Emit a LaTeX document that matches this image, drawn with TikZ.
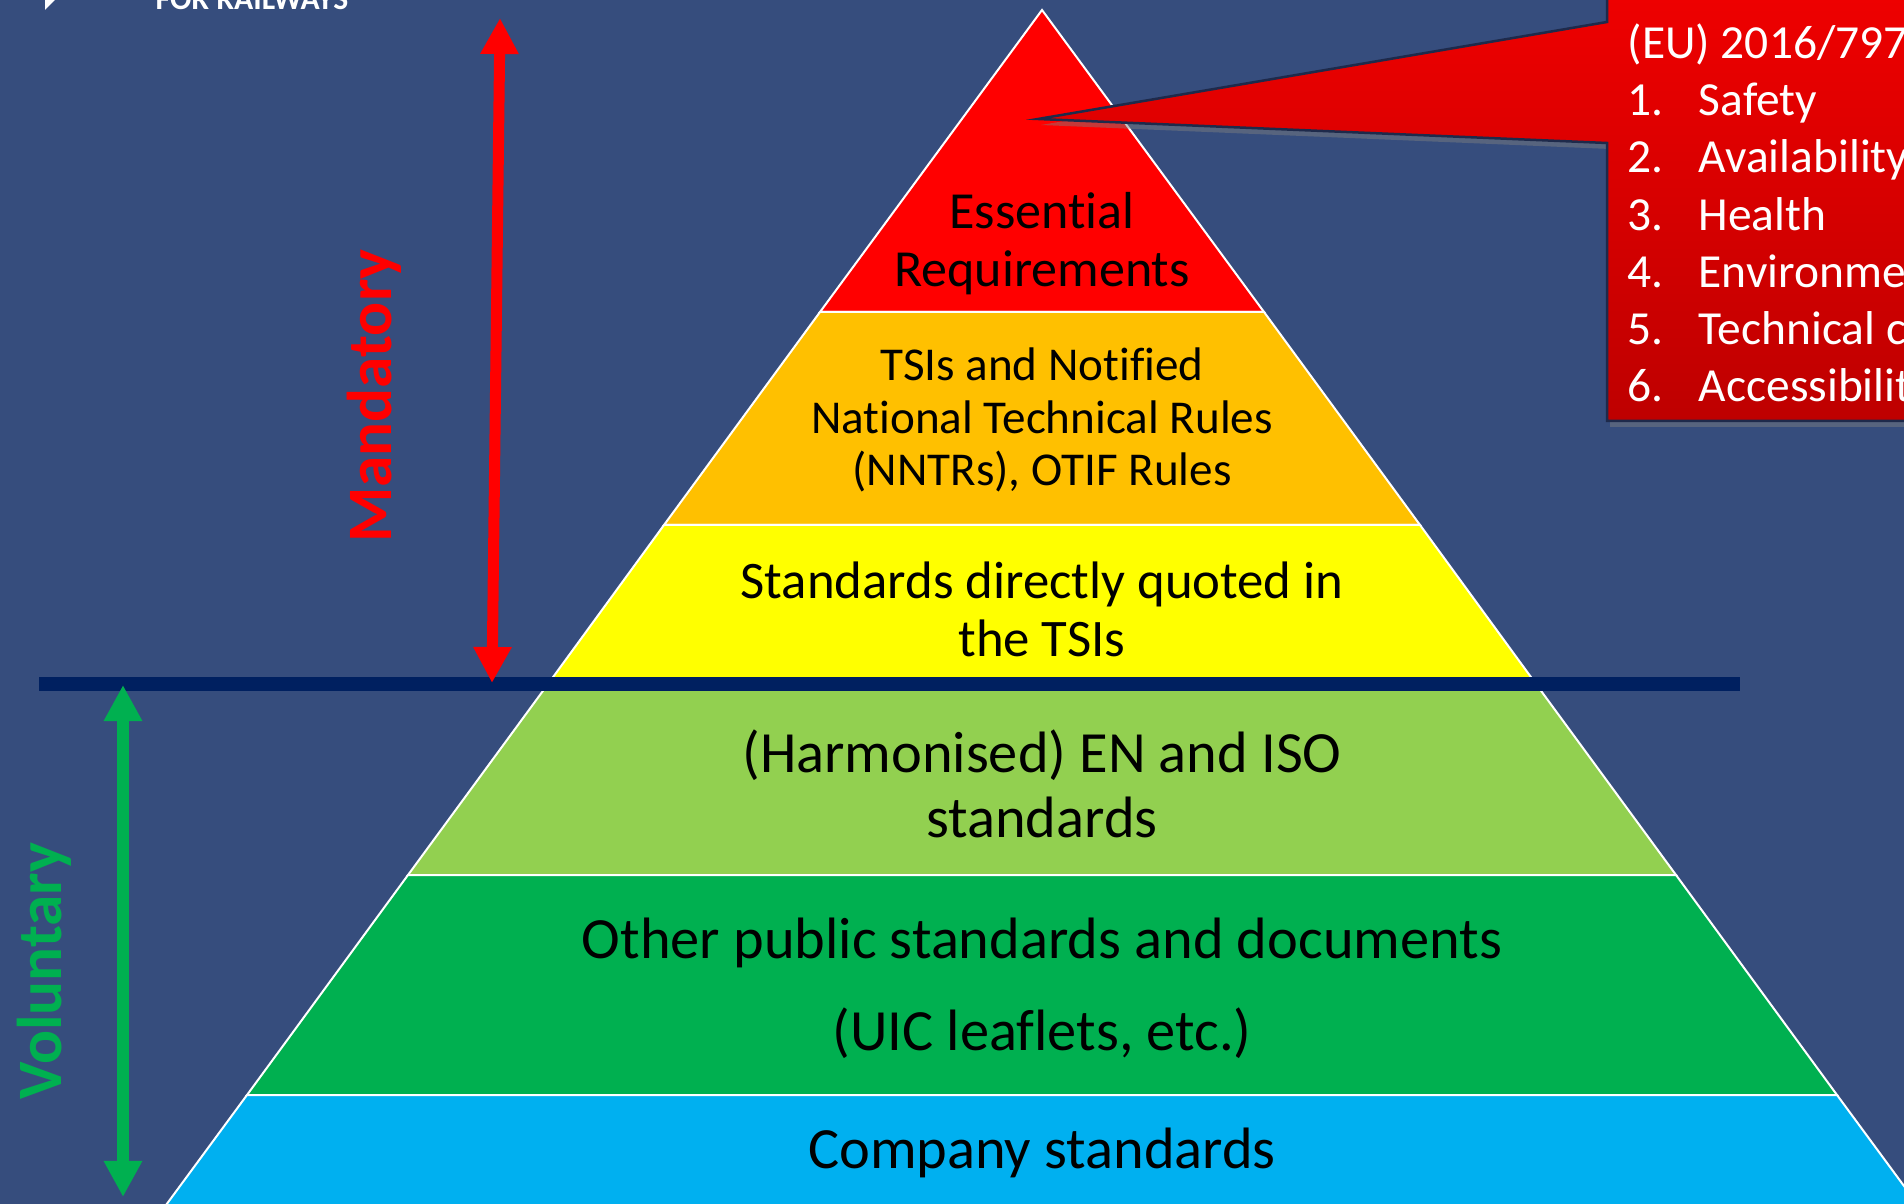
\documentclass[tikz,border=0pt]{standalone}
\usepackage{fontspec}
\setmainfont{Carlito}[Ligatures=CommonOff]
\usetikzlibrary{arrows.meta,shadows}
\definecolor{bgblue}{RGB}{54,77,125}
\definecolor{barblue}{RGB}{0,32,96}
\definecolor{lred}{RGB}{255,0,0}
\definecolor{lorange}{RGB}{255,192,0}
\definecolor{lyellow}{RGB}{255,255,0}
\definecolor{llgreen}{RGB}{146,208,80}
\definecolor{lgreen}{RGB}{0,176,80}
\definecolor{lblue}{RGB}{0,176,240}
\definecolor{calltop}{RGB}{240,0,0}
\definecolor{callbot}{RGB}{190,0,0}
\definecolor{calledge}{RGB}{30,42,75}

\begin{document}
\begin{tikzpicture}[x=0.01cm, y=-0.01cm]
                \useasboundingbox (0,0) rectangle (1904,1204);
                \clip (0,0) rectangle (1904,1204);
                \fill [bgblue] (0,0) rectangle (1904,1204);

                \fill [white] (45,-16) -- (58,-3) -- (45,10) -- cycle;
                \node[anchor=base west, inner sep=0pt, text=white, font=\bfseries\fontsize{9}{10}\selectfont] (hdr) at (155,10) {FOR RAILWAYS};

                \tikzstyle{layer}=[draw=white, line width=0.02cm]
                \filldraw[layer, fill=lred] (1042,10) -- (1264,312) -- (820,312) -- cycle;
                \filldraw[layer, fill=lorange] (820,312) -- (1264,312) -- (1420,525) -- (664,525) -- cycle;
                \filldraw[layer, fill=lyellow] (664,525) -- (1420,525) -- (1536,684) -- (548,684) -- cycle;
                \filldraw[layer, fill=llgreen] (548,684) -- (1536,684) -- (1676,875) -- (408,875) -- cycle;
                \filldraw[layer, fill=lgreen] (408,875) -- (1676,875) -- (1837,1095) -- (247,1095) -- cycle;
                \filldraw[layer, fill=lblue] (247,1095) -- (1837,1095) -- (1929,1220) -- (155,1220) -- cycle;

                \tikzstyle{lbl}=[align=center, text=black]
                \node[lbl, font=\fontsize{14.8}{16.5}\selectfont] (ess) at (1042,244) {Essential\\Requirements};
                \node[lbl, font=\fontsize{13.4}{15}\selectfont] (tsi) at (1042,420) {TSIs and Notified\\National Technical Rules\\(NNTRs), OTIF Rules};
                \node[lbl, font=\fontsize{15}{16.5}\selectfont] (std) at (1042,609) {Standards directly quoted in\\the TSIs};
                \node[lbl, font=\fontsize{16.6}{18.3}\selectfont] (harm) at (1042,784) {(Harmonised) EN and ISO\\standards};
                \node[lbl, font=\fontsize{16.6}{18.3}\selectfont] (oth) at (1042,943) {Other public standards and documents};
                \node[lbl, font=\fontsize{16.6}{18.3}\selectfont] (uic) at (1042,1033) {(UIC leaflets, etc.)};
                \node[lbl, font=\fontsize{16.6}{18.3}\selectfont] (comp) at (1042,1153) {Company standards};

                \fill [barblue] (39,677) rectangle (1740,691);

                \tikzstyle{bind}=[<->, line width=0.11cm, >={Triangle[width=0.36cm,length=0.36cm]}]
                \coordinate (mtop) at (500,18);
                \coordinate (mbot) at (492,683);
                \coordinate (vtop) at (123,685);
                \coordinate (vbot) at (123,1197);
                \draw[bind, lred] (mtop) -- (mbot);
                \draw[bind, lgreen] (vtop) -- (vbot);
                \node[rotate=90, text=lred, font=\bfseries\fontsize{18}{20}\selectfont] (mand) at (374,396) {Mandatory};
                \node[rotate=90, text=lgreen, font=\bfseries\fontsize{18}{20}\selectfont] (vol) at (44,971) {Voluntary};

                \path[draw=calledge, line width=0.025cm, top color=calltop, bottom color=callbot,
                      drop shadow={shadow xshift=0.03cm, shadow yshift=-0.06cm, opacity=0.45}]
                      (1038,119) -- (1607,143) -- (1607,421) -- (1930,421) -- (1930,-20) -- (1607,-20) -- (1607,22) -- cycle;

                \tikzstyle{req}=[anchor=base west, inner sep=0pt, text=white, font=\fontsize{13.5}{16}\selectfont]
                \node[req] (eu) at (1627,59) {(EU) 2016/797};
                \node[req] (rq1) at (1627,116) {\makebox[0.71cm][l]{1.}Safety};
                \node[req] (rq2) at (1627,173) {\makebox[0.71cm][l]{2.}Availability};
                \node[req] (rq3) at (1627,231) {\makebox[0.71cm][l]{3.}Health};
                \node[req] (rq4) at (1627,288) {\makebox[0.71cm][l]{4.}Environment};
                \node[req] (rq5) at (1627,345) {\makebox[0.71cm][l]{5.}Technical compatibility};
                \node[req] (rq6) at (1627,402) {\makebox[0.71cm][l]{6.}Accessibility};
            \end{tikzpicture}
\end{document}
